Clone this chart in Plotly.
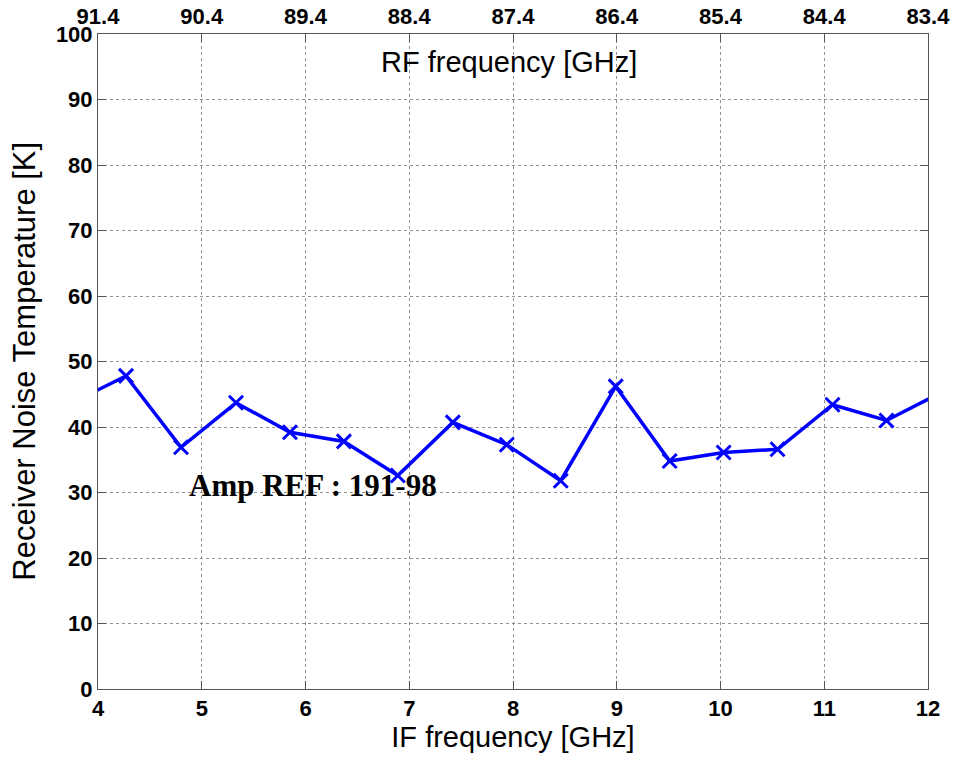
import plotly.graph_objects as go

# IF sweep points (GHz) and measured receiver noise temperature (K)
if_freq = [3.75, 4.27, 4.80, 5.33, 5.85, 6.37, 6.89, 7.42, 7.94, 8.46,
           8.99, 9.51, 10.03, 10.55, 11.08, 11.60, 12.12]
noise_temp = [43.7, 47.8, 36.9, 43.7, 39.2, 37.8, 32.6, 40.7, 37.3, 31.8,
              46.2, 34.8, 36.1, 36.6, 43.4, 41.0, 45.2]

if_ticks = [4, 5, 6, 7, 8, 9, 10, 11, 12]
rf_ticks = [91.4, 90.4, 89.4, 88.4, 87.4, 86.4, 85.4, 84.4, 83.4]
y_ticks = [0, 10, 20, 30, 40, 50, 60, 70, 80, 90, 100]

SANS = "Liberation Sans, Arial, sans-serif"
tick_font = dict(family=SANS, size=22, color="black", weight="bold")
title_font = dict(family=SANS, size=29, color="black")
frame = "#555555"
grid = "#909090"

fig = go.Figure()
fig.add_trace(go.Scatter(
    x=if_freq, y=noise_temp, mode="lines+markers",
    line=dict(color="#0000ff", width=3.5),
    marker=dict(symbol="x-thin", size=14, line=dict(color="#0000ff", width=3)),
    showlegend=False,
))
# RF scale on the top axis (RF = LO - IF); invisible trace keeps the axis live
fig.add_trace(go.Scatter(
    x=[rf_ticks[0], rf_ticks[-1]], y=[None, None], xaxis="x2", yaxis="y",
    mode="lines", showlegend=False, hoverinfo="skip",
))

fig.update_layout(
    width=953, height=757,
    margin=dict(l=98, r=25, t=34, b=68),
    paper_bgcolor="white", plot_bgcolor="white",
    xaxis=dict(
        range=[4, 12], tickvals=if_ticks, ticks="inside", ticklen=8,
        tickcolor=frame, showline=True, linecolor=frame, linewidth=1,
        showgrid=True, gridcolor=grid, griddash="dot", gridwidth=1,
        zeroline=False, tickfont=tick_font, automargin=False,
        title=dict(text="IF frequency [GHz]", font=title_font, standoff=2),
    ),
    xaxis2=dict(
        range=[91.4, 83.4], tickvals=rf_ticks,
        ticktext=[f"{v:.1f}" for v in rf_ticks],
        overlaying="x", side="top", anchor="y",
        ticks="inside", ticklen=8, tickcolor=frame,
        showline=True, linecolor=frame, linewidth=1,
        showgrid=False, zeroline=False, tickfont=tick_font, automargin=False,
    ),
    yaxis=dict(
        range=[0, 100], tickvals=y_ticks, ticks="inside", ticklen=8,
        tickcolor=frame, showline=True, linecolor=frame, linewidth=1,
        mirror="ticks", showgrid=True, gridcolor=grid, griddash="dot",
        gridwidth=1, zeroline=False, tickfont=tick_font, automargin=False,
    ),
)

# y-axis title placed as a rotated annotation at the left edge
fig.add_annotation(
    text="Receiver Noise Temperature [K]", xref="paper", yref="paper",
    x=-0.089, y=0.5, xanchor="center", yanchor="middle", textangle=-90,
    showarrow=False, font=dict(family=SANS, size=31, color="black"),
)

# secondary-axis title sits just below the top frame
fig.add_annotation(
    text="RF frequency [GHz]", xref="paper", yref="paper",
    x=0.495, y=0.958, xanchor="center", yanchor="middle", showarrow=False,
    font=title_font,
)

fig.add_annotation(
    text="Amp REF : 191-98", xref="x", yref="y",
    x=4.86, y=31.0, xanchor="left", yanchor="middle", showarrow=False,
    font=dict(family="Liberation Serif, Times New Roman, serif", size=31,
              color="black", weight="bold"),
)

fig.write_html("out.html")
